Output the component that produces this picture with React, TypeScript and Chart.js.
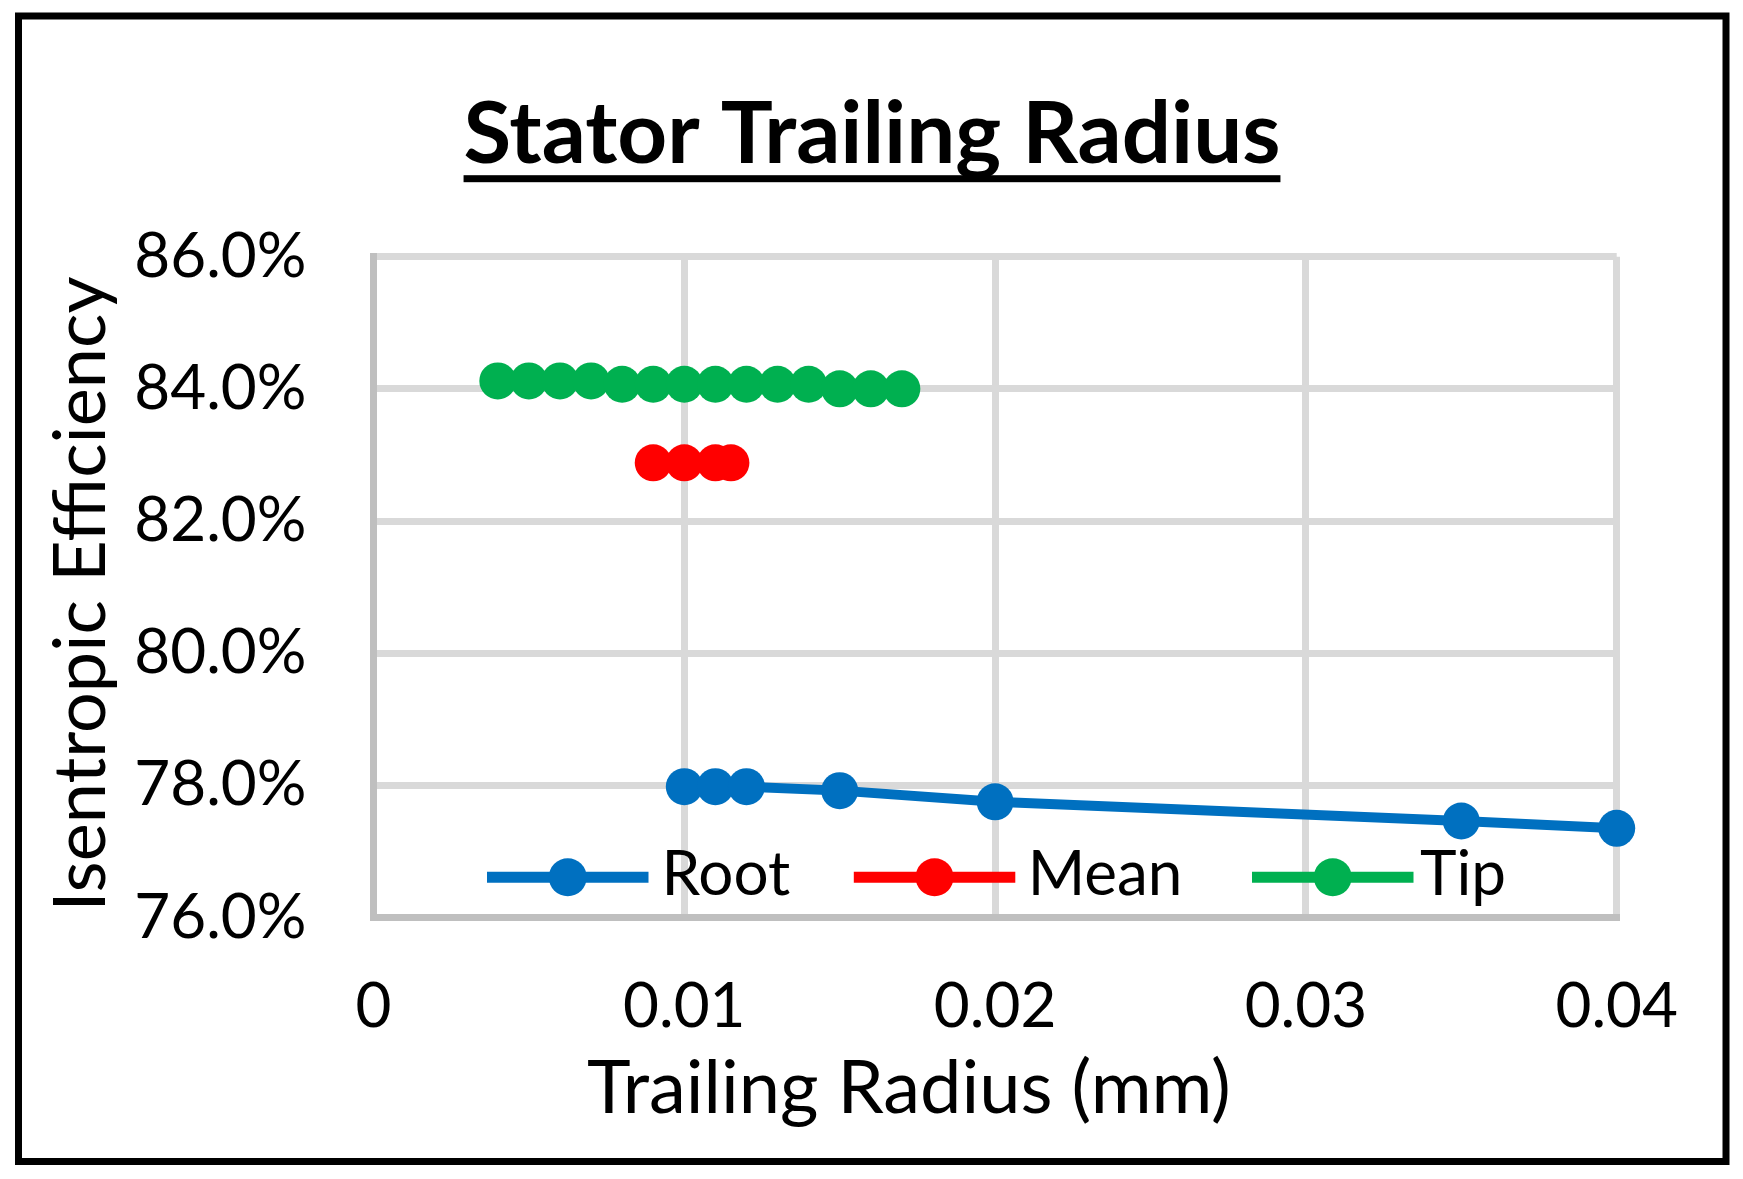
import React, { useEffect, useRef } from "react";
import { Chart, registerables } from "chart.js";

Chart.register(...registerables);

// ---------- data ----------
const chartTitle = "Stator Trailing Radius";
const xAxisTitle = "Trailing Radius (mm)";
const yAxisTitle = "Isentropic Efficiency";

const seriesNames = ["Root", "Mean", "Tip"];
const seriesColors = ["#0070C0", "#FF0000", "#00B050"];

const rootX = [0.01, 0.011, 0.012, 0.015, 0.02, 0.035, 0.04];
const rootY = [77.98, 77.98, 77.98, 77.92, 77.75, 77.46, 77.35];

const meanX = [0.009, 0.01, 0.011, 0.0115];
const meanY = [82.88, 82.88, 82.88, 82.88];

const tipX = [0.004, 0.005, 0.006, 0.007, 0.008, 0.009, 0.01, 0.011, 0.012, 0.013, 0.014, 0.015, 0.016, 0.017];
const tipY = [84.12, 84.12, 84.12, 84.12, 84.07, 84.07, 84.07, 84.07, 84.07, 84.07, 84.07, 84.0, 84.0, 84.0];

const xMin = 0;
const xMax = 0.04;
const xStep = 0.01;
const yMin = 76;
const yMax = 86;
const yStep = 2;

// ---------- layout ----------
const W = 1727;
const H = 1163;
const FONT = "Lato, 'Open Sans', 'DejaVu Sans', sans-serif";

const legendLineStarts = [479, 845.8, 1244];
const legendTextStarts = [653.5, 1019.7, 1412];

const toPoints = (xs: number[], ys: number[]) => xs.map((x, i) => ({ x, y: ys[i] }));

const decorPlugin = {
  id: "decor",
  afterDraw(chart: any) {
    const ctx = chart.ctx as CanvasRenderingContext2D;
    const area = chart.chartArea;
    ctx.save();

    // outer border
    ctx.strokeStyle = "#000";
    ctx.lineWidth = 7;
    ctx.strokeRect(10.5, 8, 1707.5, 1145.5);

    // title with underline
    ctx.fillStyle = "#000";
    ctx.font = `bold 87px ${FONT}`;
    ctx.textAlign = "center";
    ctx.textBaseline = "alphabetic";
    const tcx = 864;
    ctx.fillText(chartTitle, tcx, 155);
    const tw = ctx.measureText(chartTitle).width;
    ctx.fillRect(tcx - tw / 2, 167.2, tw, 7);

    // x axis title
    ctx.font = `74px ${FONT}`;
    ctx.textAlign = "center";
    ctx.fillText(xAxisTitle, 901, 1105);

    // y axis title
    ctx.save();
    ctx.translate(97, 586);
    ctx.rotate(-Math.PI / 2);
    ctx.font = `72px ${FONT}`;
    ctx.textAlign = "center";
    ctx.textBaseline = "alphabetic";
    ctx.fillText(yAxisTitle, 0, 0);
    ctx.restore();

    // legend inside plot area
    const ly = area.bottom - 40.2;
    const lineLen = 161.5;
    seriesNames.forEach((name, i) => {
      const x0 = legendLineStarts[i];
      ctx.strokeStyle = seriesColors[i];
      ctx.lineWidth = 11;
      ctx.lineCap = "butt";
      ctx.beginPath();
      ctx.moveTo(x0, ly);
      ctx.lineTo(x0 + lineLen, ly);
      ctx.stroke();
      ctx.fillStyle = seriesColors[i];
      ctx.beginPath();
      ctx.arc(x0 + lineLen / 2, ly, 19, 0, Math.PI * 2);
      ctx.fill();
      ctx.fillStyle = "#000";
      ctx.font = `62px ${FONT}`;
      ctx.textAlign = "left";
      ctx.textBaseline = "alphabetic";
      ctx.fillText(name, legendTextStarts[i], ly + 18);
    });

    ctx.restore();
  },
};

export default function App() {
  const canvasRef = useRef<HTMLCanvasElement | null>(null);

  useEffect(() => {
    let chart: Chart | null = null;
    let cancelled = false;

    const build = () => {
      if (cancelled || !canvasRef.current) return;
      const xs = [rootX, meanX, tipX];
      const ys = [rootY, meanY, tipY];
      chart = new Chart(canvasRef.current, {
        type: "scatter",
        data: {
          datasets: seriesNames.map((name, i) => ({
            label: name,
            data: toPoints(xs[i], ys[i]),
            showLine: true,
            borderColor: seriesColors[i],
            backgroundColor: seriesColors[i],
            borderWidth: 10,
            pointRadius: 18.5,
            pointBorderWidth: 0,
            pointBackgroundColor: seriesColors[i],
            pointBorderColor: seriesColors[i],
            clip: false as any,
          })),
        },
        options: {
          animation: false,
          responsive: false,
          devicePixelRatio: 1,
          events: [],
          layout: {
            padding: { top: 248.7, right: 118.3, left: 65.5, bottom: 53.5 },
          },
          plugins: {
            legend: { display: false },
            title: { display: false },
            tooltip: { enabled: false },
          },
          scales: {
            x: {
              type: "linear",
              min: xMin,
              max: xMax,
              afterFit: (s: any) => {
                s.height = 200;
              },
              ticks: {
                stepSize: xStep,
                padding: 52,
                color: "#000",
                font: { family: FONT, size: 62 },
                maxRotation: 0,
                callback: (v: any) => (Number(v) === 0 ? "0" : Number(v).toFixed(2)),
              },
              grid: { color: "#D9D9D9", lineWidth: 7, drawTicks: false, z: -1 },
              border: { display: true, color: "#BFBFBF", width: 7 },
              title: { display: false },
            },
            y: {
              type: "linear",
              min: yMin,
              max: yMax,
              afterFit: (s: any) => {
                s.width = 300;
              },
              ticks: {
                stepSize: yStep,
                padding: 67,
                color: "#000",
                font: { family: FONT, size: 62 },
                callback: (v: any) => Number(v).toFixed(1) + "%",
              },
              grid: { color: "#D9D9D9", lineWidth: 7, drawTicks: false, z: -1 },
              border: { display: true, color: "#BFBFBF", width: 7 },
              title: { display: false },
            },
          },
        },
        plugins: [decorPlugin],
      });
    };

    const fontsApi = (document as any).fonts;
    if (fontsApi && fontsApi.load) {
      Promise.all([
        fontsApi.load(`62px Lato`),
        fontsApi.load(`bold 87px Lato`),
      ])
        .catch(() => null)
        .then(() => build());
    } else {
      build();
    }

    return () => {
      cancelled = true;
      if (chart) chart.destroy();
    };
  }, []);

  return (
    <canvas
      ref={canvasRef}
      width={W}
      height={H}
      style={{ display: "block", width: W, height: H }}
    />
  );
}
